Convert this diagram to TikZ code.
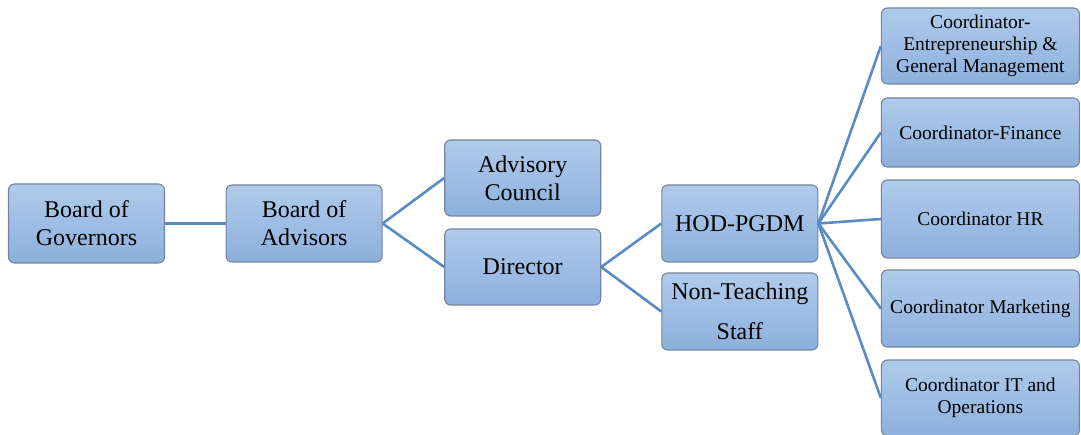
\documentclass[tikz,border=0pt]{standalone}
\usepackage{fontspec}
\setmainfont{Liberation Serif}
\usepackage{tikz}
\usetikzlibrary{positioning}
\definecolor{boxtop}{HTML}{B0CBEB}
\definecolor{boxbot}{HTML}{8CB0DC}
\definecolor{boxline}{HTML}{74849C}
\definecolor{linkblue}{HTML}{5A8BC4}
\tikzstyle{unitbox} = [rectangle, rounded corners=6pt, minimum width=156pt, minimum height=77pt, inner sep=2pt, align=center, draw=boxline, line width=1.1pt, top color=boxtop, bottom color=boxbot, font=\fontsize{24}{28}\selectfont]
\tikzstyle{coordbox} = [unitbox, minimum width=198pt, font=\fontsize{19.5}{22}\selectfont]
\tikzstyle{link} = [line width=2.6pt, linkblue]

\begin{document}
\begin{tikzpicture}[x=1pt, y=-1pt]

    \useasboundingbox (0,0) rectangle (1081,435);

    \node (governors) [unitbox, minimum height=79pt] at (86.5,223.5) {Board of\\Governors};
    \node (advisors) [unitbox, right=60.5pt of governors] {Board of\\Advisors};
    \node (council) [unitbox, minimum height=76pt, right=61.5pt of advisors, yshift=45.5pt] {Advisory\\Council};
    \node (director) [unitbox, minimum height=76pt, right=61.5pt of advisors, yshift=-43.5pt] {Director};
    \node (hod) [unitbox, right=60pt of director, yshift=43.5pt] {HOD-PGDM};
    \node (staff) [unitbox, right=60pt of director, yshift=-44.5pt] {Non-Teaching\\[12pt]Staff};

    \node (entre) [coordbox, minimum height=76pt, right=62.5pt of hod, yshift=177.5pt] {Coordinator-\\Entrepreneurship \&\\General Management};
    \node (finance) [coordbox, minimum height=69pt, right=62.5pt of hod, yshift=91pt] {Coordinator-Finance};
    \node (hr) [coordbox, minimum height=78pt, right=62.5pt of hod, yshift=4.5pt] {Coordinator HR};
    \node (marketing) [coordbox, minimum height=77pt, right=62.5pt of hod, yshift=-85pt] {Coordinator Marketing};
    \node (itops) [coordbox, minimum height=76pt, right=62.5pt of hod, yshift=-174.5pt] {Coordinator IT and\\Operations};

    \draw [link] (governors.east) -- (advisors.west);
    \draw [link] (advisors.east) -- (council.west);
    \draw [link] (advisors.east) -- (director.west);
    \draw [link] (director.east) -- (hod.west);
    \draw [link] (director.east) -- (staff.west);
    \draw [link] (hod.east) -- (entre.west);
    \draw [link] (hod.east) -- (finance.west);
    \draw [link] (hod.east) -- (hr.west);
    \draw [link] (hod.east) -- (marketing.west);
    \draw [link] (hod.east) -- (itops.west);

\end{tikzpicture}
\end{document}
